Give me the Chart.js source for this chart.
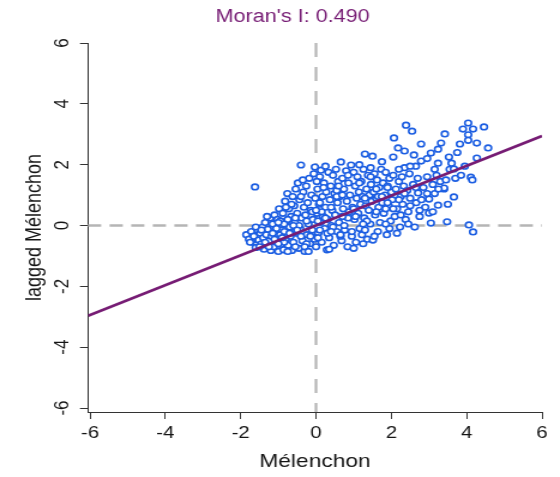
<!DOCTYPE html>
<html>
<head>
<meta charset="utf-8">
<script src="https://cdn.jsdelivr.net/npm/chart.js@4.4.1/dist/chart.umd.min.js"></script>
<style>
  html, body { margin: 0; padding: 0; background: #fff; overflow: hidden; }
  #wrap { width: 560px; height: 477px; }
  /* the reference is a square R plot stretched sideways */
  canvas { transform: scaleX(1.1991); transform-origin: 0 0; }
</style>
</head>
<body>
<div id="wrap"><canvas id="chart" width="467" height="477"></canvas></div>
<script>
const moranI = 0.490
const xTicks = [-6, -4, -2, 0, 2, 4, 6]
const yTicks = [-6, -4, -2, 0, 2, 4, 6]
const lineEnds = [-6.053, 6]

// standardised Mélenchon vote, one row per x band
const melenchon = [
  -1.85, -1.78, -1.72, -1.70, -1.65, -1.62, -1.58, -1.55, -1.52, -1.60,
  -1.48, -1.45, -1.42, -1.40, -1.38, -1.35, -1.32, -1.30, -1.28, -1.25, -1.22, -1.20,
  -1.18, -1.15, -1.12, -1.10, -1.08, -1.05, -1.02, -1.00, -0.98, -0.95, -0.93, -0.90,
  -0.88, -0.86, -0.84, -0.82, -0.80, -0.78, -0.76, -0.74, -0.72, -0.70, -0.68, -0.66, -0.64, -0.62,
  -0.60, -0.58, -0.56, -0.54, -0.52, -0.50, -0.48, -0.46, -0.44, -0.42, -0.40, -0.38, -0.36, -0.34, -0.32,
  -0.30, -0.28, -0.26, -0.24, -0.22, -0.20, -0.18, -0.16, -0.14, -0.12, -0.10, -0.08, -0.06, -0.04, -0.02, -0.03,
  0.00, 0.02, 0.04, 0.06, 0.08, 0.10, 0.12, 0.13, 0.15, 0.17, 0.19, 0.21, 0.23, 0.25, 0.27, 0.29,
  0.31, 0.33, 0.35, 0.37, 0.39, 0.41, 0.43, 0.45, 0.47, 0.49, 0.51, 0.53, 0.55, 0.57, 0.59,
  0.61, 0.63, 0.66, 0.68, 0.70, 0.72, 0.74, 0.76, 0.78, 0.80, 0.82, 0.84, 0.86, 0.88,
  0.90, 0.93, 0.95, 0.97, 1.00, 1.02, 1.04, 1.06, 1.08, 1.10, 1.12, 1.14, 1.16, 1.18,
  1.20, 1.22, 1.24, 1.26, 1.28, 1.30, 1.32, 1.34, 1.36, 1.38, 1.40, 1.42, 1.44, 1.46, 1.48,
  1.50, 1.51, 1.53, 1.55, 1.57, 1.60, 1.62, 1.64, 1.66, 1.68, 1.70, 1.73, 1.76, 1.78,
  1.80, 1.83, 1.85, 1.88, 1.90, 1.93, 1.95, 1.98, 2.00, 2.02, 2.05, 2.07, 2.09,
  2.12, 2.15, 2.18, 2.20, 2.23, 2.25, 2.28, 2.30, 2.33, 2.35, 2.38, 2.39,
  2.42, 2.45, 2.48, 2.50, 2.55, 2.58, 2.60, 2.62, 2.66, 2.70, 2.71, 2.75, 2.79, 2.79,
  2.85, 2.90, 2.95, 3.00, 3.00, 3.05, 3.05, 3.10, 3.15, 3.20, 3.24, 3.24, 3.24, 3.30,
  3.32, 3.40, 3.40, 3.42, 3.45, 3.48, 3.53, 3.55, 3.60, 3.66, 3.66, 3.70, 3.75,
  3.82, 3.90, 3.95, 4.04, 4.04, 4.04, 4.06, 4.11, 4.15, 4.17, 4.17, 4.27, 4.27, 4.46, 4.57,
  -1.05, -0.75, -0.45, -0.15, 0.15, 0.45, 0.75, 1.05, 1.35, 1.65, 1.95, 2.25, -0.95, -0.55, 0.05, 0.65, 1.25, 1.85,
  -1.35, -1.10, -0.85, -0.55, -0.25, 0.05, 0.35, 0.65, 0.95, 1.25, 1.55, 1.85, 2.15, 2.45, 2.75,
  -0.65, -0.35, 0.02, 0.25, 0.55, 0.85, 1.15, 1.45, 1.75, 2.05, 2.35, 2.65, 2.95, 3.15,
  -1.60, -1.45, -1.30, -1.15, -1.00, -0.85, -0.70, -0.55, -0.40, -0.25, -0.10, 0.10, 0.25, 0.40, 0.55, 0.70, 0.85, 1.00, 1.15, 1.30,
  1.45, 1.60, 1.75, 1.90, 2.05, 2.20, 2.35, 2.50, 2.65, 2.80, 2.95, 3.10, 3.25, 3.50, 3.85, -0.90, -0.60, -0.30, 0.00, 0.30,
  -1.75, -1.50, -1.25, -1.00, -0.75, -0.50, -0.20, 0.10, 0.40, 0.70, 1.00, 1.30, 1.60, 1.90, 2.20, 2.50, -0.80, -0.40, 0.20, 0.60
]

// spatially lagged value, same order
const laggedMelenchon = [
  -0.30, -0.45, -0.20, -0.55, -0.35, 1.27, -0.62, -0.15, -0.48, -0.72,
  -0.25, -0.60, -0.05, -0.40, -0.78, 0.10, -0.30, -0.65, -0.12, -0.50, 0.25, -0.82,
  -0.35, 0.05, -0.70, 0.35, -0.15, -0.55, 0.20, -0.85, 0.55, -0.30, -0.62, 0.02,
  0.40, -0.80, -0.20, 0.80, -0.45, 0.15, 1.05, -0.65, 0.55, -0.05, -0.35, 0.30, -0.82, 0.95,
  -0.55, 0.65, 0.10, 1.20, -0.25, 0.40, 1.40, -0.75, 0.85, -0.10, 1.99, 0.25, -0.50, 1.10, 0.60,
  -0.85, 0.35, 1.30, -0.30, 0.75, 0.05, 1.55, -0.60, 0.50, 1.00, -0.15, 0.20, 1.70, -0.45, 0.90, 1.92,
  -0.70, 0.40, 1.20, -0.25, 0.70, 1.60, 0.10, 1.82, -0.55, 0.95, 0.30, 1.40, -0.10, 0.60, 1.10, -0.80,
  0.20, 1.75, -0.40, 0.85, 1.30, 0.00, 0.50, 1.65, -0.65, 1.05, 0.35, 1.85, -0.20, 0.75, 1.45,
  0.10, 0.95, 2.09, -0.50, 1.55, 0.55, 1.20, -0.15, 0.30, 1.80, 0.80, -0.70, 1.40, 0.45,
  1.00, 1.99, -0.35, 0.60, 1.75, 0.20, 1.30, -0.55, 0.90, 1.60, 0.40, 1.10, -0.10, 0.70,
  1.45, -0.30, 0.95, 1.85, 0.25, 2.35, 0.65, 1.20, -0.45, 1.65, 0.50, 1.00, 0.05, 1.35, 0.80,
  2.28, -0.48, 1.10, 1.70, 0.35, 0.90, 1.50, -0.20, 0.60, 1.25, 0.10, 1.85, 0.75, 1.40,
  0.40, 1.00, 1.75, -0.30, 1.30, 0.65, 1.55, 0.15, 1.10, 0.85, 1.65, 2.88, 0.30,
  1.20, 0.55, 2.55, 1.45, -0.05, 0.95, 1.60, 0.70, 1.30, 2.45, 0.20, 3.30,
  1.15, 0.45, 1.70, 0.90, 3.10, 1.35, 2.32, -0.05, 0.75, 1.55, 1.07, 0.30, 2.68, 2.12,
  1.25, 0.60, 1.60, 0.87, 0.41, 2.38, 0.08, 1.35, 1.05, 1.65, 2.51, 2.05, 0.67, 1.45,
  2.71, 1.20, 1.23, 3.01, 1.50, 0.12, 2.25, 1.85, 2.05, 1.86, 0.94, 1.55, 2.40,
  2.68, 3.17, 1.95, 3.37, 2.98, 2.80, 0.02, 1.59, 1.50, 3.17, -0.21, 2.71, 2.22, 3.24, 2.55,
  -0.10, 0.20, 0.00, -0.35, 0.45, -0.05, 0.00, 0.30, 0.15, 0.95, -0.10, 0.35, 0.15, -0.20, 0.15, -0.35, 0.05, 0.55,
  -0.55, -0.45, 0.05, -0.70, -0.60, -0.40, -0.78, -0.30, -0.20, -0.60, -0.35, 0.05, -0.25, 0.05, 0.50,
  0.70, 1.50, 1.45, 1.95, 1.15, 1.65, 2.00, 1.90, 2.10, 2.25, 1.90, 1.95, 2.20, 1.85,
  -0.05, -0.15, 0.30, -0.25, 0.10, -0.55, -0.25, 0.25, -0.35, 0.15, 0.45, 0.75, 0.25, 0.60, 0.95, 1.00, 0.25, 0.55, 1.40, 0.90,
  1.60, 1.20, 0.95, 0.75, 0.55, 1.85, 1.05, 1.95, 1.25, 0.85, 1.05, 0.45, 1.20, 0.70, 1.65, -0.40, 0.00, -0.70, 0.50, -0.25,
  -0.55, -0.70, -0.70, -0.60, -0.85, -0.15, -0.85, -0.15, -0.20, 0.30, -0.75, -0.15, 0.45, 1.25, 0.85, 0.65, 0.60, 0.95, 1.25, 1.30
]

const purple = '#761c74'
const ink = '#151515'
const font = '"Liberation Sans", Arial, Helvetica, sans-serif'

const points = melenchon.map((v, i) => ({ x: v, y: laggedMelenchon[i] }))
const fitLine = lineEnds.map(v => ({ x: v, y: moranI * v }))

// grey dashed lines through the origin
const zeroLines = {
  id: 'zeroLines',
  beforeDatasetsDraw(chart) {
    const { ctx, chartArea: a, scales } = chart
    const x0 = scales.x.getPixelForValue(0)
    const y0 = scales.y.getPixelForValue(0)
    ctx.save()
    ctx.strokeStyle = '#b5b5b5'
    ctx.lineWidth = 2.6
    ctx.setLineDash([11, 7])
    ctx.beginPath()
    ctx.moveTo(a.left, y0)
    ctx.lineTo(a.right, y0)
    ctx.stroke()
    ctx.lineWidth = 2.2
    ctx.setLineDash([14, 10])
    ctx.beginPath()
    ctx.moveTo(x0, a.top)
    ctx.lineTo(x0, a.bottom)
    ctx.stroke()
    ctx.restore()
  }
}

const moranTitle = {
  id: 'moranTitle',
  afterDraw(chart) {
    const ctx = chart.ctx
    ctx.save()
    ctx.font = '18px ' + font
    ctx.fillStyle = purple
    ctx.textAlign = 'center'
    ctx.textBaseline = 'middle'
    ctx.fillText("Moran's I: " + moranI.toFixed(3), 244, 17)
    ctx.restore()
  }
}

const ctx = document.getElementById('chart').getContext('2d')

new Chart(ctx, {
  type: 'scatter',
  data: {
    datasets: [
      {
        type: 'line',
        data: fitLine,
        borderColor: purple,
        borderWidth: 2.7,
        pointRadius: 0,
        fill: false,
        order: 0
      },
      {
        data: points,
        pointRadius: 2.8,
        pointBorderWidth: 1.6,
        pointBorderColor: '#1c5ee2',
        pointBackgroundColor: '#ffffff',
        order: 1
      }
    ]
  },
  options: {
    responsive: false,
    animation: false,
    layout: { padding: { top: 43, right: 15, left: 0, bottom: 0 } },
    plugins: {
      legend: { display: false },
      tooltip: { enabled: false }
    },
    scales: {
      x: {
        type: 'linear',
        min: -6.053,
        max: 6,
        afterBuildTicks: axis => { axis.ticks = xTicks.map(v => ({ value: v })) },
        afterFit: axis => { axis.height = 65 },
        grid: { drawOnChartArea: false, drawTicks: true, tickLength: 7, tickColor: '#333', color: '#333' },
        border: { display: true, color: '#333', width: 1 },
        ticks: { color: ink, padding: 4, font: { family: font, size: 17 } },
        title: {
          display: true,
          text: 'Mélenchon',
          color: ink,
          font: { family: font, size: 19 },
          padding: { top: 0, bottom: 4 }
        }
      },
      y: {
        type: 'linear',
        min: -6.13,
        max: 6,
        afterBuildTicks: axis => { axis.ticks = yTicks.map(v => ({ value: v })) },
        afterFit: axis => { axis.width = 73.4 },
        grid: { drawOnChartArea: false, drawTicks: true, tickLength: 6.7, tickColor: '#333', color: '#333' },
        border: { display: true, color: '#333', width: 1 },
        ticks: {
          color: ink,
          padding: 6.6,
          minRotation: 90,
          maxRotation: 90,
          crossAlign: 'center',
          font: { family: font, size: 17 }
        },
        title: {
          display: true,
          text: 'lagged Mélenchon',
          color: ink,
          font: { family: font, size: 18 },
          padding: { top: 18, bottom: 0 }
        }
      }
    }
  },
  plugins: [zeroLines, moranTitle]
})
</script>
</body>
</html>
